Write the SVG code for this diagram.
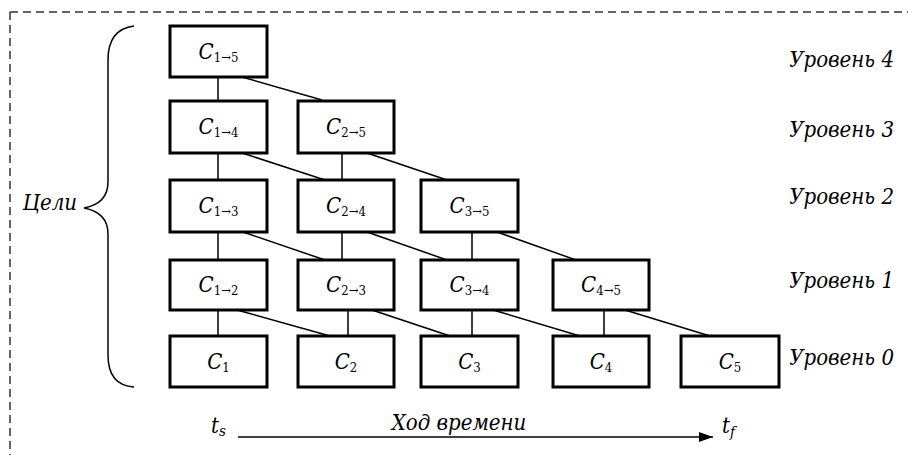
<svg xmlns="http://www.w3.org/2000/svg" width="908" height="455" viewBox="0 0 908 455">
<defs>
<style>
.box{fill:#fff;stroke:#000;stroke-width:3}
text{font-family:'DejaVu Serif','Liberation Serif',serif;font-stretch:condensed;fill:#000}
.c{font-size:22px;text-anchor:middle}
.c .i{font-style:italic}
.c .s{font-size:13px}
.lvl{font-style:italic;font-size:22px;text-anchor:end}
.lbl{font-style:italic;font-size:22px}
.conn line{stroke:#000;stroke-width:1.5}
</style>
<marker id="arr" markerWidth="14" markerHeight="10" refX="14" refY="5" orient="auto" markerUnits="userSpaceOnUse">
<path d="M0,0 L14,5 L0,10 Z" fill="#000"/>
</marker>
</defs>
<rect width="908" height="455" fill="#fff"/>
<g id="frame">
<path d="M10,12 H908 M10,12 V455" fill="none" stroke="#333" stroke-width="1.5" stroke-dasharray="8,5"/>
</g>
<g id="brace">
<path d="M134,26 C118,28 108,38 108,60 L108,182 C108,197 100,205 84,208 C100,211 108,219 108,234 L108,355 C108,377 118,386 134,387" fill="none" stroke="#000" stroke-width="1.5"/>
<text class="lbl" x="77" y="210" font-size="21" text-anchor="end">Цели</text>
</g>
<g class="conn" id="connectors">
<line x1="218" y1="77" x2="218" y2="100"/>
<line x1="218" y1="153" x2="218" y2="180"/>
<line x1="218" y1="232" x2="218" y2="260"/>
<line x1="218" y1="310" x2="218" y2="336"/>
<line x1="342" y1="153" x2="342" y2="180"/>
<line x1="342" y1="232" x2="342" y2="260"/>
<line x1="348" y1="310" x2="348" y2="336"/>
<line x1="472" y1="232" x2="472" y2="260"/>
<line x1="472" y1="310" x2="472" y2="336"/>
<line x1="604" y1="310" x2="604" y2="336"/>
<line x1="242" y1="77" x2="322" y2="100"/>
<line x1="242" y1="153" x2="325" y2="180"/>
<line x1="367" y1="153" x2="447" y2="180"/>
<line x1="243" y1="232" x2="325" y2="260"/>
<line x1="367" y1="232" x2="447" y2="260"/>
<line x1="497" y1="232" x2="576" y2="260"/>
<line x1="237" y1="310" x2="330" y2="336"/>
<line x1="372" y1="310" x2="450" y2="336"/>
<line x1="493" y1="310" x2="580" y2="336"/>
<line x1="625" y1="310" x2="710" y2="336"/>
</g>
<g id="n15"><rect class="box" x="170" y="26" width="97" height="51"/><text class="c" x="218.5" y="59"><tspan class="i">C</tspan><tspan class="s" dy="3">1→5</tspan></text></g>
<g id="n14"><rect class="box" x="170" y="101" width="97" height="52"/><text class="c" x="218.5" y="134"><tspan class="i">C</tspan><tspan class="s" dy="3">1→4</tspan></text></g>
<g id="n25"><rect class="box" x="298" y="101" width="96" height="52"/><text class="c" x="346" y="134"><tspan class="i">C</tspan><tspan class="s" dy="3">2→5</tspan></text></g>
<g id="n13"><rect class="box" x="170" y="180" width="97" height="52"/><text class="c" x="218.5" y="213"><tspan class="i">C</tspan><tspan class="s" dy="3">1→3</tspan></text></g>
<g id="n24"><rect class="box" x="298" y="180" width="96" height="52"/><text class="c" x="346" y="213"><tspan class="i">C</tspan><tspan class="s" dy="3">2→4</tspan></text></g>
<g id="n35"><rect class="box" x="421" y="180" width="97" height="52"/><text class="c" x="469.5" y="213"><tspan class="i">C</tspan><tspan class="s" dy="3">3→5</tspan></text></g>
<g id="n12"><rect class="box" x="170" y="260" width="97" height="50"/><text class="c" x="218.5" y="292"><tspan class="i">C</tspan><tspan class="s" dy="3">1→2</tspan></text></g>
<g id="n23"><rect class="box" x="298" y="260" width="96" height="50"/><text class="c" x="346" y="292"><tspan class="i">C</tspan><tspan class="s" dy="3">2→3</tspan></text></g>
<g id="n34"><rect class="box" x="421" y="260" width="97" height="50"/><text class="c" x="469.5" y="292"><tspan class="i">C</tspan><tspan class="s" dy="3">3→4</tspan></text></g>
<g id="n45"><rect class="box" x="553" y="260" width="96" height="50"/><text class="c" x="601" y="292"><tspan class="i">C</tspan><tspan class="s" dy="3">4→5</tspan></text></g>
<g id="n1"><rect class="box" x="170" y="336" width="97" height="51"/><text class="c" x="218.5" y="369"><tspan class="i">C</tspan><tspan class="s" dy="3">1</tspan></text></g>
<g id="n2"><rect class="box" x="298" y="336" width="96" height="51"/><text class="c" x="346" y="369"><tspan class="i">C</tspan><tspan class="s" dy="3">2</tspan></text></g>
<g id="n3"><rect class="box" x="421" y="336" width="97" height="51"/><text class="c" x="469.5" y="369"><tspan class="i">C</tspan><tspan class="s" dy="3">3</tspan></text></g>
<g id="n4"><rect class="box" x="553" y="336" width="96" height="51"/><text class="c" x="601" y="369"><tspan class="i">C</tspan><tspan class="s" dy="3">4</tspan></text></g>
<g id="n5"><rect class="box" x="681" y="336" width="98" height="51"/><text class="c" x="730" y="369"><tspan class="i">C</tspan><tspan class="s" dy="3">5</tspan></text></g>
<g id="levels">
<text class="lvl" x="894" y="67">Уровень 4</text>
<text class="lvl" x="894" y="137">Уровень 3</text>
<text class="lvl" x="894" y="204">Уровень 2</text>
<text class="lvl" x="894" y="288">Уровень 1</text>
<text class="lvl" x="894" y="365">Уровень 0</text>
</g>
<g id="timeline">
<line x1="238" y1="437" x2="713" y2="437" stroke="#000" stroke-width="1.5" marker-end="url(#arr)"/>
<text class="lbl" x="459" y="430" text-anchor="middle" font-size="23">Ход времени</text>
<text class="lbl" x="211" y="433" font-size="24">t<tspan font-size="15" dy="3">s</tspan></text>
<text class="lbl" x="722" y="433" font-size="24">t<tspan font-size="15" dy="4">f</tspan></text>
</g>
</svg>
